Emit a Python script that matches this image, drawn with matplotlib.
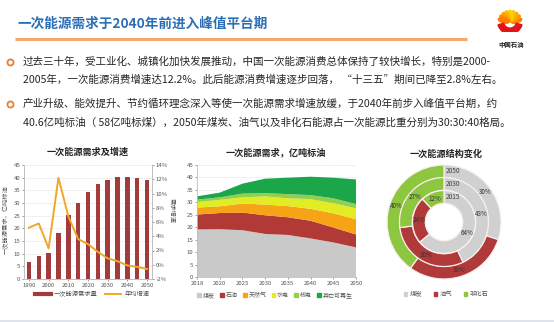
import numpy as np
import matplotlib.pyplot as plt
from matplotlib.lines import Line2D
from matplotlib.patches import Patch, Ellipse, Wedge
from matplotlib.ticker import FuncFormatter

plt.rcParams['font.family'] = ['Noto Sans CJK SC', 'DejaVu Sans']

# ---- data ----
years_l = [1990, 1995, 2000, 2005, 2010, 2015, 2020, 2025, 2030, 2035, 2040, 2045, 2050]
demand = [6.7, 9.0, 10.2, 18.3, 25.1, 30.0, 34.3, 37.5, 39.1, 40.4, 40.4, 40.0, 39.2]
growth = [5.2, 5.8, 2.3, 12.2, 6.8, 3.6, 2.9, 1.8, 0.9, 0.5, -0.1, -0.3, -0.6]

years_m = ['2018', '2020', '2025', '2030', '2035', '2040', '2045', '2050']
coal = [19.1, 19.2, 18.8, 17.3, 16.9, 15.5, 13.9, 11.9]
oil = [6.0, 6.5, 7.1, 7.5, 7.1, 7.1, 6.0, 5.2]
gas = [2.8, 2.7, 3.6, 4.3, 4.5, 4.8, 5.7, 6.1]
hydro = [2.2, 2.6, 2.5, 3.3, 3.1, 3.9, 4.0, 4.4]
nuclear = [1.0, 1.0, 1.5, 1.3, 1.7, 1.6, 2.0, 1.7]
renew = [1.3, 1.9, 4.0, 5.8, 6.6, 7.4, 8.3, 9.9]
area_labels = ['煤炭', '石油', '天然气', '水电', '核电', '其它可再生']

ring_years = ['2050', '2030', '2015']
mix_2050 = [30, 30, 40]
mix_2030 = [43, 30, 27]
mix_2015 = [64, 24, 12]
mix_labels = ['煤炭', '油气', '非化石']

title = '一次能源需求于2040年前进入峰值平台期'
para = ['过去三十年，受工业化、城镇化加快发展推动，中国一次能源消费总体保持了较快增长，特别是2000-',
        '2005年，一次能源消费增速达12.2%。此后能源消费增速逐步回落， “十三五”期间已降至2.8%左右。',
        '产业升级、能效提升、节约循环理念深入等使一次能源需求增速放缓，于2040年前步入峰值平台期，约',
        '40.6亿吨标油（ 58亿吨标煤），2050年煤炭、油气以及非化石能源占一次能源比重分别为30:30:40格局。']

W, H = 554, 322
fig = plt.figure(figsize=(W / 100, H / 100), dpi=100)


def px_axes(x0, y0, x1, y1):
    return fig.add_axes([x0 / W, 1 - y1 / H, (x1 - x0) / W, (y1 - y0) / H])


# background layer in pixel coords
bg = fig.add_axes([0, 0, 1, 1], zorder=-5)
bg.set_xlim(0, W)
bg.set_ylim(H, 0)
bg.axis('off')

bg.text(17, 24, title, fontsize=9.8, fontweight='bold', color='#2b6fb6', va='center')
bg.plot([15, 467], [38.5, 38.5], color='#f2aa6e', lw=2.2, solid_capstyle='butt')

for yy in (62, 104):
    bg.scatter([10], [yy], s=22, color='#e9812f', zorder=3)
    bg.scatter([10], [yy], s=4, color='white', zorder=4)
for yy, line in zip([62, 80, 104, 122], para):
    bg.text(23, yy, line, fontsize=7.6, color='#262626', va='center')

bg.plot([0, W], [320.5, 320.5], color='#dfe4ea', lw=2)

# logo
lg = px_axes(497, 5, 523, 33)
lg.set_xlim(-1, 1)
lg.set_ylim(-1, 1)
lg.set_aspect('equal')
lg.axis('off')
for k, a in enumerate(np.linspace(15, 165, 9)):
    t = abs(a - 90) / 75
    col = (1.0, 0.83 - 0.35 * t, 0.0)
    r = np.deg2rad(a)
    lg.add_patch(Ellipse((0.5 * np.cos(r), 0.5 * np.sin(r) - 0.25), 0.85, 0.36, angle=a, color=col))
lg.add_patch(Wedge((0, -0.2), 0.95, 195, 345, width=0.45, color='#e3131b'))
bg.text(511, 44, '中国石油', fontsize=4.6, fontweight='bold', ha='center', va='center', color='#222')

tick_kw = dict(labelsize=4.3, colors='#555555', length=1.5, width=0.4, pad=1.2)
spine_c = '#bfbfbf'

# ---- left chart ----
ax1 = px_axes(24, 165, 152, 279)
x = np.arange(len(years_l))
ax1.bar(x, demand, width=0.45, color='#a23b3b', zorder=2)
ax1.set_xlim(-0.5, len(years_l) - 0.5)
ax1.set_ylim(0, 45)
ax1.set_yticks(range(0, 46, 5))
ax1.set_xticks(x[::2])
ax1.set_xticklabels([str(v) for v in years_l[::2]])
ax1.yaxis.grid(True, ls=':', color='#c8c8c8', lw=0.5)
ax1.set_axisbelow(True)
ax1.tick_params(**tick_kw)
ax1.spines['top'].set_visible(False)
for s in ('left', 'bottom', 'right'):
    ax1.spines[s].set_color(spine_c)
    ax1.spines[s].set_linewidth(0.6)

ax1b = ax1.twinx()
ax1b.plot(x, growth, color='#f0a629', lw=1.4, zorder=3)
ax1b.set_ylim(-2, 14)
ax1b.set_yticks(range(-2, 15, 2))
ax1b.yaxis.set_major_formatter(FuncFormatter(lambda v, p: '%d%%' % v))
ax1b.tick_params(**tick_kw)
ax1b.spines['top'].set_visible(False)
for s in ('left', 'bottom', 'right'):
    ax1b.spines[s].set_color(spine_c)
    ax1b.spines[s].set_linewidth(0.6)

bg.text(88, 152, '一次能源需求及增速', fontsize=6.6, fontweight='bold', ha='center', va='center', color='#222')
bg.text(6, 220, '一次能源需求，亿吨标油', fontsize=4.5, rotation=90, ha='center', va='center', color='#555')
bg.text(172, 210, '需求增速', fontsize=4.5, rotation=270, ha='center', va='center', color='#555')
fig.legend(handles=[Line2D([], [], color='#a23b3b', lw=3), Line2D([], [], color='#f0a629', lw=1.4)],
           labels=['一次能源需求量', '年均增速'], loc='center', bbox_to_anchor=(92 / W, 1 - 294 / H),
           ncol=2, frameon=False, fontsize=4.5, handlelength=2.6, handletextpad=0.5,
           columnspacing=1.2, labelcolor='#555555')

# ---- middle chart ----
area_colors = ['#c9c9c9', '#b13a37', '#f6a316', '#e3ec22', '#93cf4c', '#1ca64a']
ax2 = px_axes(197, 165, 356, 277)
xm = np.arange(len(years_m))
ax2.stackplot(xm, coal, oil, gas, hydro, nuclear, renew, colors=area_colors, labels=area_labels, lw=0)
ax2.set_xlim(0, len(years_m) - 1)
ax2.set_ylim(0, 45)
ax2.set_yticks(range(0, 46, 5))
ax2.set_xticks(xm)
ax2.set_xticklabels(years_m)
ax2.yaxis.grid(True, ls=':', color='#c8c8c8', lw=0.5)
ax2.set_axisbelow(True)
ax2.tick_params(**tick_kw)
for s in ('top', 'right'):
    ax2.spines[s].set_visible(False)
for s in ('left', 'bottom'):
    ax2.spines[s].set_color(spine_c)
    ax2.spines[s].set_linewidth(0.6)
bg.text(276, 152, '一次能源需求，亿吨标油', fontsize=6.6, fontweight='bold', ha='center', va='center', color='#222')
fig.legend(handles=[Patch(color=c) for c in area_colors], labels=area_labels, loc='center',
           bbox_to_anchor=(275 / W, 1 - 295 / H), ncol=6, frameon=False, fontsize=4.3,
           handlelength=0.6, handleheight=0.6, handletextpad=0.3, columnspacing=0.9,
           labelcolor='#555555')

# ---- donut ----
mix_colors = ['#d0d0d0', '#b03a3a', '#8dc63f']
axp = px_axes(379, 157, 509, 287)
ring_w = 12.8
for R, vals, yr in zip([57, 44.5, 31.5], [mix_2050, mix_2030, mix_2015], ring_years):
    axp.pie(vals, radius=R, startangle=90, counterclock=False, colors=mix_colors,
            wedgeprops=dict(width=ring_w, edgecolor='#fbeeee', linewidth=0.9),
            autopct='%.0f%%', pctdistance=(R - ring_w / 2) / R,
            textprops=dict(fontsize=4.5, color='#333333'))
    axp.text(1.5, R - ring_w / 2, yr, fontsize=4.7, ha='left', va='center', color='#444444')
axp.set_xlim(-65, 65)
axp.set_ylim(-65, 65)
axp.set_aspect('equal')
bg.text(446, 154, '一次能源结构变化', fontsize=6.6, fontweight='bold', ha='center', va='center', color='#222')
fig.legend(handles=[Patch(color=c) for c in mix_colors], labels=mix_labels, loc='center',
           bbox_to_anchor=(446 / W, 1 - 294 / H), ncol=3, frameon=False, fontsize=4.5,
           handlelength=0.6, handleheight=0.6, handletextpad=0.4, columnspacing=1.8,
           labelcolor='#555555')

fig.savefig('out.png', dpi=100)
